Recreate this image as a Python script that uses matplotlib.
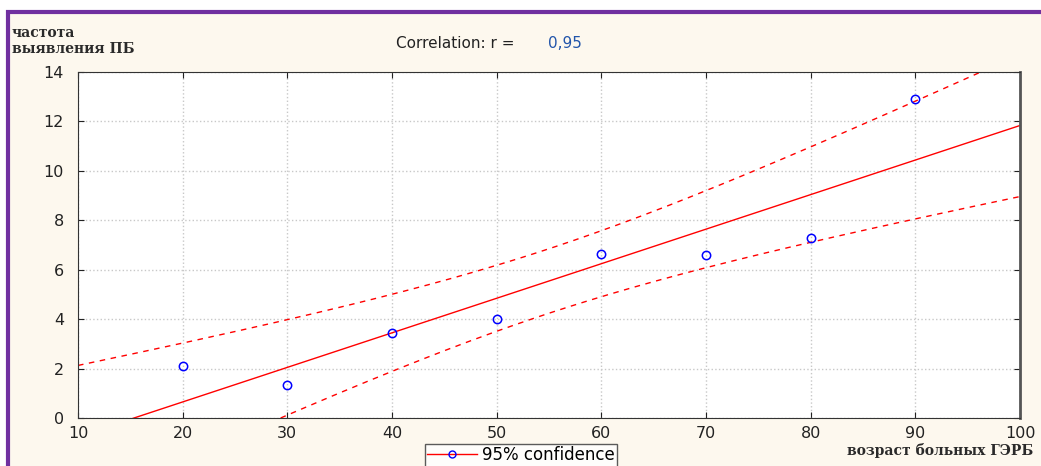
import numpy as np
import matplotlib.pyplot as plt
from matplotlib.patches import Rectangle

# data
age = [20, 30, 40, 50, 60, 70, 80, 90]
freq = [2.1, 1.35, 3.45, 4.0, 6.65, 6.6, 7.3, 12.9]
x_ticks = [10, 20, 30, 40, 50, 60, 70, 80, 90, 100]
y_ticks = [0, 2, 4, 6, 8, 10, 12, 14]
r_text = "0,95"
t_crit = 2.447  # t(0.975, df=6)

x = np.array(age, dtype=float)
y = np.array(freq, dtype=float)
n = len(x)

# linear fit and 95% confidence band of the mean
b, a = np.polyfit(x, y, 1)
resid = y - (a + b * x)
s = np.sqrt(np.sum(resid ** 2) / (n - 2))
sxx = np.sum((x - x.mean()) ** 2)
xs = np.linspace(10, 100, 200)
fit = a + b * xs
half = t_crit * s * np.sqrt(1.0 / n + (xs - x.mean()) ** 2 / sxx)

plt.rcParams["font.family"] = ["DejaVu Sans"]

fig = plt.figure(figsize=(10.41, 4.66), dpi=100)
fig.patch.set_facecolor("white")

# cream panel with purple frame
fig.patches.append(Rectangle((8 / 1041, -0.05), 1.1, (466 - 12) / 466 + 0.05,
                             transform=fig.transFigure, facecolor="#fdf8ee",
                             edgecolor="#7030a0", linewidth=3, zorder=-5))

ax = fig.add_axes([78 / 1041, 48 / 466, 942 / 1041, 346 / 466])
ax.set_facecolor("white")

ax.plot(xs, fit, color="red", lw=1)
ax.plot(xs, fit + half, color="red", lw=1, ls=(0, (4, 4)))
ax.plot(xs, fit - half, color="red", lw=1, ls=(0, (4, 4)))
ax.plot(x, y, "o", mfc="none", mec="blue", ms=6, mew=1.1, zorder=5)

ax.set_xlim(10, 100)
ax.set_ylim(0, 14)
ax.set_xticks(x_ticks)
ax.set_yticks(y_ticks)
ax.grid(True, color="#c8c8c8", ls=":", lw=1)
ax.tick_params(direction="in", length=4, top=True, right=True,
               labelsize=11.5, colors="#222222")
ax.tick_params(axis="x", pad=6)
ax.tick_params(axis="y", pad=10)
for sp in ax.spines.values():
    sp.set_color("#333333")
ax.spines["right"].set_linewidth(2)
ax.spines["right"].set_color("#555555")

serif = "DejaVu Serif"
fig.text(12 / 1041, 1 - 41 / 466, "частота\nвыявления ПБ", fontsize=10,
         family=serif, fontweight="bold", color="#2a2a2a", va="center",
         linespacing=1.15)
fig.text(1033 / 1041, 1 - 443 / 466, "возраст больных ГЭРБ", fontsize=10,
         family=serif, fontweight="bold", color="#2a2a2a", ha="right",
         va="top")
fig.text(396 / 1041, 1 - 44 / 466, "Correlation: r = ", fontsize=11,
         color="#222222", va="center")
fig.text(548 / 1041, 1 - 44 / 466, r_text, fontsize=11,
         color="#2255aa", va="center")

leg = ax.legend([plt.Line2D([], [], color="red", lw=1, marker="o", mfc="none",
                            mec="blue", ms=5)], ["95% confidence"],
                loc="center", bbox_to_anchor=(521 / 1041, 1 - 455 / 466),
                bbox_transform=fig.transFigure, frameon=True, fancybox=False,
                fontsize=12, handlelength=3.0, borderpad=0.15,
                handletextpad=0.3)
leg.get_frame().set_edgecolor("#333333")
leg.get_frame().set_linewidth(1)

fig.savefig("out.png", dpi=100)
